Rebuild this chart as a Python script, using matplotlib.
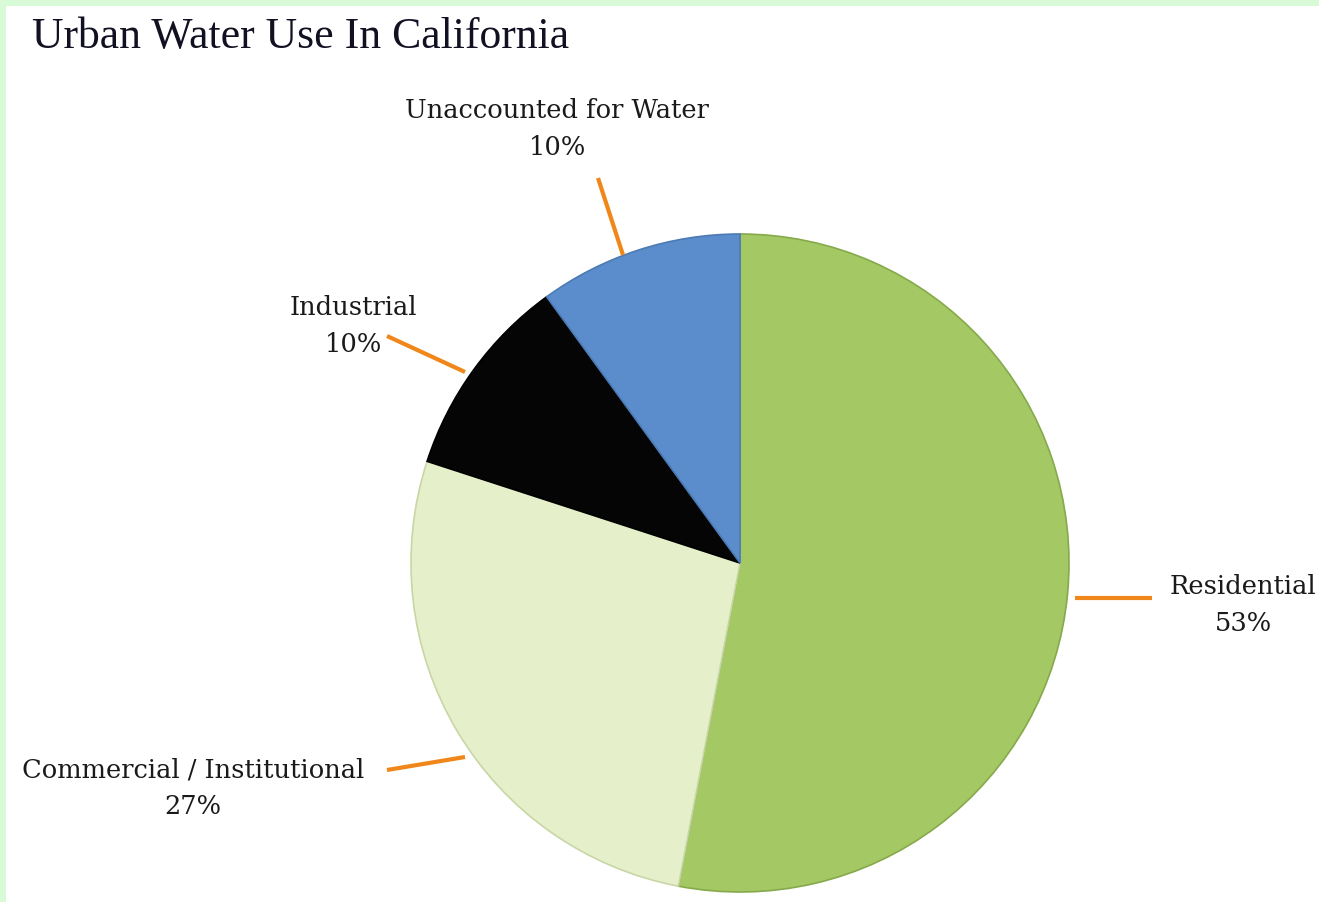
import matplotlib.pyplot as plt
from matplotlib.patches import Rectangle

# data
categories = ["Residential", "Commercial / Institutional", "Industrial", "Unaccounted for Water"]
shares = [53, 27, 10, 10]
colors = ["#A4C864", "#E5F0CA", "#050505", "#5B8CCB"]
edge_colors = ["#86A94C", "#C8D6A6", "#000000", "#4C7AB4"]

# label layout in pixel units (y measured from top)
leader_starts = [(1075, 598), (465, 757), (465, 372), (623, 255)]
leader_ends = [(1152, 598), (387, 770), (387, 336), (598, 178)]
text_centres = [(1243, 605), (193, 788), (353, 326), (557, 129)]

W, H = 1319, 902
TITLE_FONT = "Liberation Serif"
LABEL_FONT = "DejaVu Serif"


def main():
    fig = plt.figure(figsize=(W / 100, H / 100), dpi=100)
    fig.patch.set_facecolor("white")
    ax = fig.add_axes([0, 0, 1, 1])

    cx, cy, R = 740, H - 563, 329
    wedges, _ = ax.pie(shares, colors=colors, startangle=90, counterclock=False,
                       center=(cx, cy), radius=R, frame=True,
                       wedgeprops=dict(linewidth=1.2))
    for w, ec in zip(wedges, edge_colors):
        w.set_edgecolor(ec)

    # leader lines + labels
    for name, val, st, end, pos in zip(categories, shares, leader_starts, leader_ends, text_centres):
        ax.plot([st[0], end[0]], [H - st[1], H - end[1]], color="#F0871A", lw=3,
                solid_capstyle="butt", zorder=3)
        ax.text(pos[0], H - pos[1], f"{name}\n{val}%", ha="center", va="center",
                fontsize=18.5, family=LABEL_FONT, color="#1a1a1a", linespacing=1.6)

    ax.text(32, H - 37, "Urban Water Use In California", ha="left", va="center",
            fontsize=31.5, family=TITLE_FONT, color="#111122")

    # light green frame at top and left
    ax.add_patch(Rectangle((0, H - 6), W, 6, color="#D8FAD6", lw=0, clip_on=False))
    ax.add_patch(Rectangle((0, 0), 6, H, color="#D8FAD6", lw=0, clip_on=False))

    ax.set_xlim(0, W)
    ax.set_ylim(0, H)
    ax.set_aspect("equal")
    ax.axis("off")

    fig.savefig("out.png", dpi=100)


if __name__ == "__main__":
    main()
